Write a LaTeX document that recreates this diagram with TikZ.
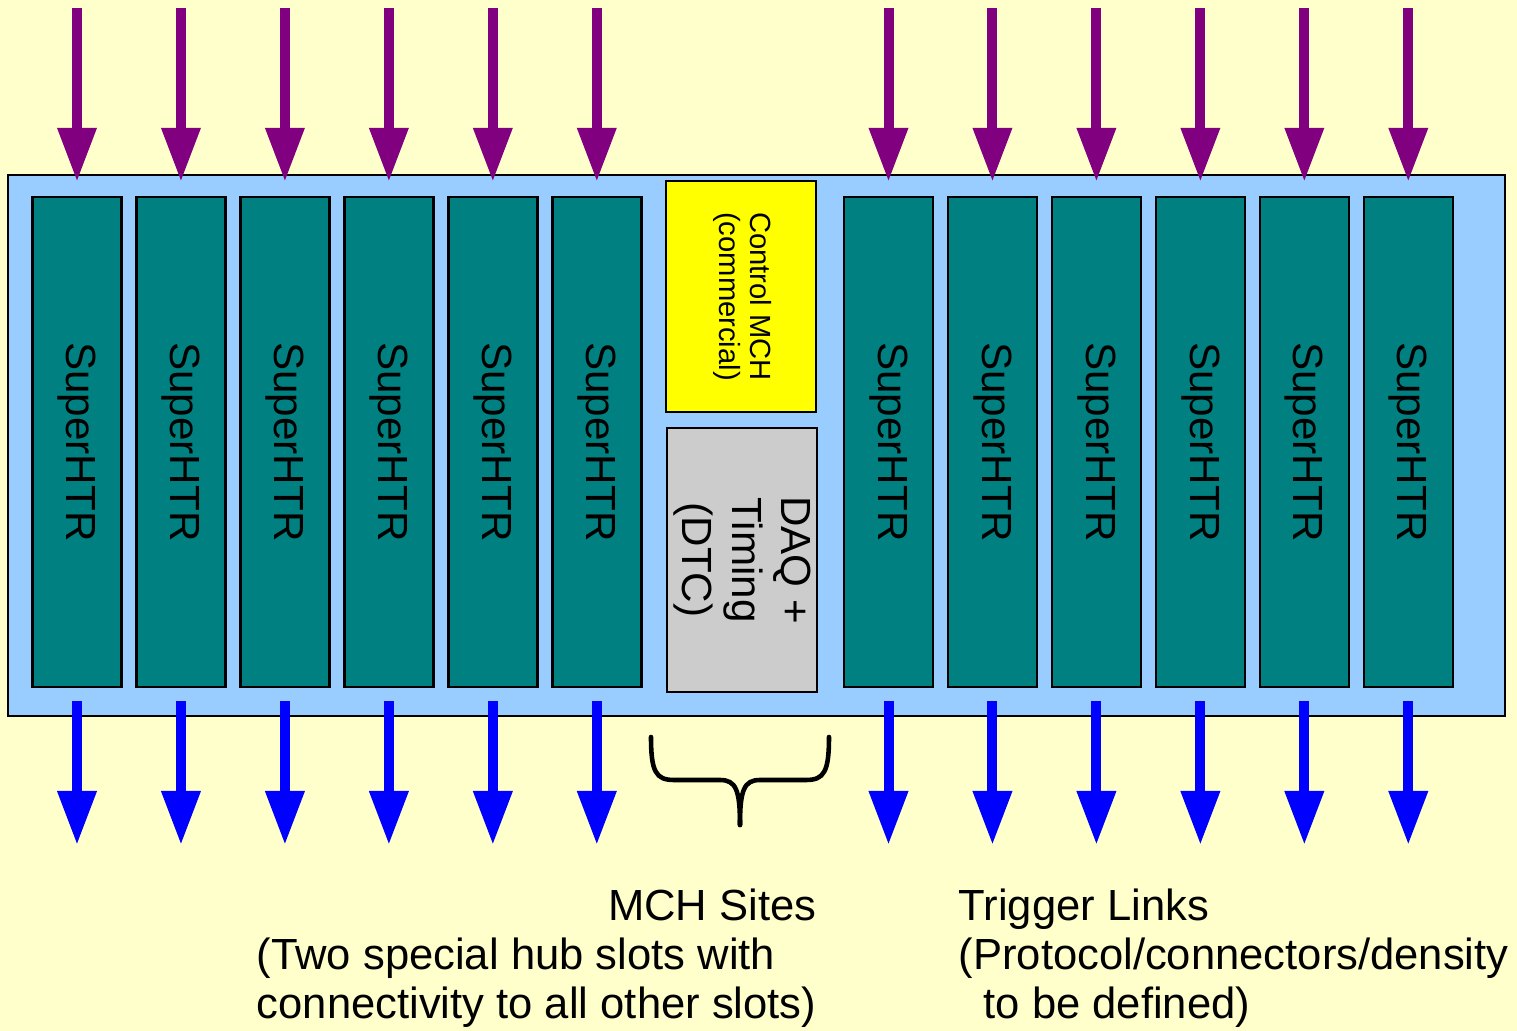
\documentclass[tikz,border=0pt]{standalone}
\usepackage{fontspec}
\setmainfont{Liberation Sans}
\usepackage{graphicx}
\usetikzlibrary{arrows.meta,positioning}
\definecolor{CrateCream}{HTML}{FFFFCC}
\definecolor{CrateBlue}{HTML}{99CCFF}
\definecolor{CrateTeal}{HTML}{008080}
\definecolor{CrateYellow}{HTML}{FFFF00}
\definecolor{CrateGrey}{HTML}{CCCCCC}
\definecolor{CratePurple}{HTML}{800080}
\definecolor{CrateLink}{HTML}{0000FF}

\begin{document}
\begin{tikzpicture}[
    node distance=1.25mm,
    crate/.style={draw=black, line width=0.8pt, fill=CrateBlue, minimum width=149.7mm,
      minimum height=54.1mm, inner sep=0pt},
    htr/.style={draw=black, line width=0.7pt, fill=CrateTeal, minimum width=8.9mm,
      minimum height=49mm, inner sep=0pt, font=\fontsize{12}{14}\selectfont},
    mch/.style={htr, fill=CrateYellow, minimum width=15mm, minimum height=23.1mm,
      font=\fontsize{8.3}{8.8}\selectfont},
    dtc/.style={htr, fill=CrateGrey, minimum width=14.8mm, minimum height=26.4mm,
      font=\fontsize{12}{14.2}\selectfont},
    inlink/.style={-{Triangle[width=3.7mm, length=5.4mm]}, line width=1mm, draw=CratePurple},
    outlink/.style={-{Triangle[width=3.7mm, length=5.4mm]}, line width=1mm, draw=CrateLink},
    brace/.style={line width=1.3pt, line cap=round, draw=black},
    note/.style={inner sep=0pt, font=\fontsize{12.4}{13.9}\selectfont}
  ]
    \useasboundingbox[fill=CrateCream] (0,0) rectangle (15.17,-10.31);
    \node[crate] (crate) at (7.565,-4.455) {};
    % left slots
    \node[htr] (htr1) at (0.77,-4.42) {\rotatebox{-90}{SuperHTR}};
    \node[htr, right=of htr1] (htr2) {\rotatebox{-90}{SuperHTR}};
    \node[htr, right=of htr2] (htr3) {\rotatebox{-90}{SuperHTR}};
    \node[htr, right=of htr3] (htr4) {\rotatebox{-90}{SuperHTR}};
    \node[htr, right=of htr4] (htr5) {\rotatebox{-90}{SuperHTR}};
    \node[htr, right=of htr5] (htr6) {\rotatebox{-90}{SuperHTR}};
    % hub slots
    \node[mch] (mch) at (7.41,-2.965)
      {\rotatebox{-90}{\begin{tabular}{@{}c@{}}Control MCH\\(commercial)\end{tabular}}};
    \node[dtc] (dtc) at (7.42,-5.60)
      {\rotatebox{-90}{\begin{tabular}{@{}c@{}}DAQ +\\Timing\\(DTC)\end{tabular}}};
    % right slots
    \node[htr] (htr7) at (8.885,-4.42) {\rotatebox{-90}{SuperHTR}};
    \node[htr, right=of htr7] (htr8) {\rotatebox{-90}{SuperHTR}};
    \node[htr, right=of htr8] (htr9) {\rotatebox{-90}{SuperHTR}};
    \node[htr, right=of htr9] (htr10) {\rotatebox{-90}{SuperHTR}};
    \node[htr, right=of htr10] (htr11) {\rotatebox{-90}{SuperHTR}};
    \node[htr, right=of htr11] (htr12) {\rotatebox{-90}{SuperHTR}};
    % links in and out
    \foreach \n in {1,...,12} {
      \coordinate (in\n) at (htr\n.north |- 0,-0.08);
      \coordinate (out\n) at (htr\n.south |- 0,-8.45);
      \draw[inlink, shorten >=1.4mm] (in\n) -- (htr\n.north);
      \draw[outlink, shorten <=1.3mm] (htr\n.south) -- (out\n);
    }
    % brace under the hub slots
    \draw[brace] (6.51,-7.37) .. controls (6.51,-7.72) and (6.56,-7.80) .. (6.74,-7.80)
      -- (7.20,-7.80) .. controls (7.36,-7.80) and (7.40,-7.90) .. (7.40,-8.25);
    \draw[brace] (8.29,-7.37) .. controls (8.29,-7.72) and (8.24,-7.80) .. (8.06,-7.80)
      -- (7.60,-7.80) .. controls (7.44,-7.80) and (7.40,-7.90) .. (7.40,-8.25);
    \node[note, anchor=north east] (mchnote) at (8.17,-8.86)
      {\begin{tabular}{@{}l@{}}\multicolumn{1}{@{}r@{}}{MCH Sites}\\
        (Two special hub slots with\\connectivity to all other slots)\end{tabular}};
    \node[note, anchor=north west] (trignote) at (9.58,-8.86)
      {\begin{tabular}{@{}l@{}}Trigger Links\\(Protocol/connectors/density\\
        \hspace*{2.5mm}to be defined)\end{tabular}};
  \end{tikzpicture}
\end{document}
